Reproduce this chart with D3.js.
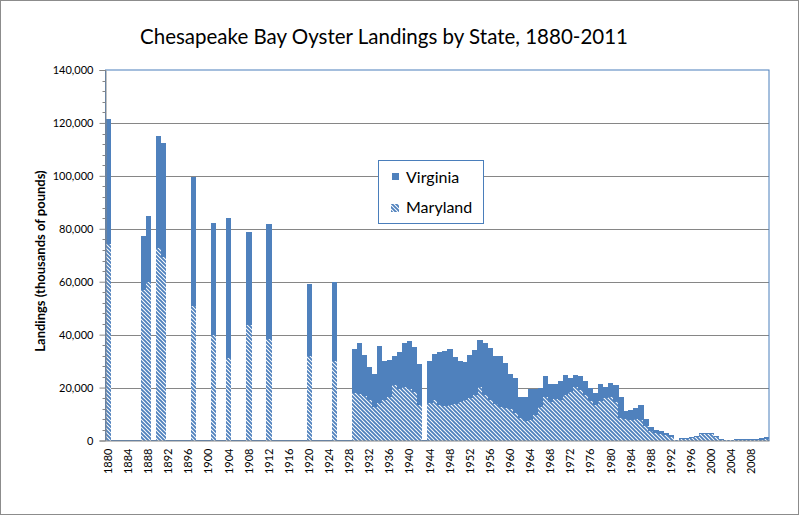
<!DOCTYPE html>
<html>
<head>
<meta charset="utf-8">
<script src="https://cdnjs.cloudflare.com/ajax/libs/d3/7.8.5/d3.min.js"></script>
<style>
  body { margin: 0; background: #fff; }
  svg { display: block; font-family: Lato, "Liberation Sans", sans-serif; }
</style>
</head>
<body>
<div class="chart"></div>
<script>
// landings data, thousands of pounds
var years = [1880,1887,1888,1890,1891,1897,1901,1904,1908,1912,1920,1925,
  1929,1930,1931,1932,1933,1934,1935,1936,1937,1938,1939,1940,1941,1942,
  1944,1945,1946,1947,1948,1949,1950,1951,1952,1953,1954,1955,1956,1957,1958,1959,
  1960,1961,1962,1963,1964,1965,1966,1967,1968,1969,1970,1971,1972,1973,1974,1975,
  1976,1977,1978,1979,1980,1981,1982,1983,1984,1985,1986,1987,1988,1989,1990,1991,
  1992,1993,1994,1995,1996,1997,1998,1999,2000,2001,2002,2003,2004,2005,2006,2007,
  2008,2009,2010,2011];

var maryland = [74200,56900,59800,72700,69500,50700,39800,31000,43500,38500,31900,30100,
  17800,17400,16800,15400,12600,14000,15400,16400,21000,19600,20200,19600,18200,13600,
  14200,15200,13500,13200,13500,13900,14400,15200,16100,17300,20300,17300,15400,13900,12700,12200,
  11800,10300,8400,7500,7800,9700,12800,16400,14700,15600,15300,17200,18500,20400,18900,17200,
  15000,13500,15100,16000,16500,14700,8500,8000,7800,8000,7800,5300,3600,2800,2500,2000,
  1300,150,700,750,1000,1300,2300,2500,2300,1200,300,80,60,100,150,150,
  200,200,300,400];

var virginia = [47400,20200,25200,42400,42900,48900,42300,53000,35400,43300,27300,29800,
  16700,19400,15600,12300,12500,21800,14700,14000,10800,13900,16500,18000,17100,15300,
  15700,17400,19900,20700,21000,17800,15600,14400,16100,16900,17600,19700,19400,17900,19400,17100,
  13200,13200,8200,9100,11800,9600,7000,8000,6700,5800,7300,7600,5000,4400,5500,5100,
  5000,4400,6300,4400,5200,6300,8100,3000,3800,4200,5800,2700,1400,1200,1100,800,
  700,100,400,350,400,500,500,500,500,600,300,70,190,400,450,450,
  500,550,700,1000];

var yTicks = [0,20000,40000,60000,80000,100000,120000,140000];
var xTickYears = d3.range(1880, 2012, 4);
var allYears = d3.range(1880, 2012);
var keys = ['Maryland','Virginia'];

var blue = '#4f81bd';

var W = 800, H = 516;
var plot = {left: 105.5, right: 769, top: 70, bottom: 440.5};

var svg = d3.select('.chart')
  .append('svg')
    .attr('width', W)
    .attr('height', H);

// hatch for Maryland
var defs = svg.append('defs');
var pat = defs.append('pattern')
    .attr('id', 'hatch')
    .attr('patternUnits', 'userSpaceOnUse')
    .attr('width', 4)
    .attr('height', 4);
pat.append('rect')
    .attr('width', 4).attr('height', 4)
    .attr('fill', '#fff');
pat.append('path')
    .attr('d', 'M-1,-1 L5,5 M-1,3 L1,5 M3,-1 L5,1')
    .attr('stroke', blue)
    .attr('stroke-width', 1.9);

// chart background + outer border
svg.append('rect')
    .attr('x', 0.5).attr('y', 0.5)
    .attr('width', W - 2).attr('height', H - 2)
    .attr('fill', '#fff')
    .attr('stroke', '#8c8c8c');

svg.append('text')
    .attr('x', 384)
    .attr('y', 44)
    .attr('font-size', '20.5px')
    .attr('fill', 'black')
    .style('text-anchor', 'middle')
    .text('Chesapeake Bay Oyster Landings by State, 1880-2011');

var x = d3.scaleBand()
    .domain(allYears)
    .range([plot.left, plot.right])
    .padding(0);

var y = d3.scaleLinear()
    .domain([0, 140000])
    .range([plot.bottom, plot.top]);

// gridlines
svg.append('g')
  .selectAll('line')
  .data(yTicks.filter(function(d) { return d > 0 && d < 140000; }))
  .enter().append('line')
    .attr('x1', plot.left).attr('x2', plot.right)
    .attr('y1', function(d) { return Math.round(y(d)) + 0.5; })
    .attr('y2', function(d) { return Math.round(y(d)) + 0.5; })
    .attr('stroke', '#868686');

// plot area border
svg.append('rect')
    .attr('x', plot.left).attr('y', plot.top)
    .attr('width', plot.right - plot.left)
    .attr('height', plot.bottom - plot.top)
    .attr('fill', 'none')
    .attr('stroke', '#4a7ebb');

// stacked bars
var table = years.map(function(yr, i) {
  return {year: yr, Maryland: maryland[i], Virginia: virginia[i]};
});
var series = d3.stack().keys(keys)(table);

svg.append('g')
  .selectAll('g')
  .data(series)
  .enter().append('g')
    .attr('fill', function(d) { return d.key === 'Maryland' ? 'url(#hatch)' : blue; })
  .selectAll('rect')
  .data(function(d) { return d; })
  .enter().append('rect')
    .attr('x', function(d) { return x(d.data.year); })
    .attr('width', x.bandwidth() + 0.3)
    .attr('y', function(d) { return y(d[1]); })
    .attr('height', function(d) { return y(d[0]) - y(d[1]); })
    .attr('shape-rendering', 'crispEdges');

// y axis
var minor = d3.range(0, 140001, 4000).filter(function(d) { return d % 20000 !== 0; });
svg.append('g')
  .selectAll('line')
  .data(minor)
  .enter().append('line')
    .attr('x1', plot.left - 3).attr('x2', plot.left)
    .attr('y1', function(d) { return Math.round(y(d)) + 0.5; })
    .attr('y2', function(d) { return Math.round(y(d)) + 0.5; })
    .attr('stroke', '#868686');

var yAx = svg.append('g')
    .attr('class', 'axis y-axis')
    .attr('transform', 'translate(' + plot.left + ',0)')
    .call(d3.axisLeft(y).tickValues(yTicks).tickFormat(d3.format(',')).tickSize(6).tickPadding(6));
yAx.selectAll('path, line').attr('stroke', '#868686');
yAx.selectAll('text')
    .attr('font-family', 'Lato, sans-serif')
    .attr('font-size', '11px')
    .attr('fill', '#000');

svg.append('text')
    .attr('transform', 'translate(40,261) rotate(-90)')
    .attr('dy', '0.35em')
    .attr('font-size', '13px')
    .attr('font-weight', 'bold')
    .style('text-anchor', 'middle')
    .text('Landings (thousands of pounds)');

// x axis
var xAx = svg.append('g')
    .attr('class', 'axis x-axis')
    .attr('transform', 'translate(0,' + plot.bottom + ')')
    .call(d3.axisBottom(x).tickValues(xTickYears).tickSize(0));
xAx.select('path').attr('stroke', '#868686');
xAx.selectAll('text')
    .attr('font-family', 'Lato, sans-serif')
    .attr('font-size', '11px')
    .attr('fill', '#000')
    .attr('transform', 'rotate(-90)')
    .attr('x', -8)
    .attr('y', 0)
    .attr('dy', '0.35em')
    .style('text-anchor', 'end');

// legend
var lg = svg.append('g');
lg.append('rect')
    .attr('x', 378.5).attr('y', 160.5)
    .attr('width', 105).attr('height', 63)
    .attr('fill', '#fff')
    .attr('stroke', '#4a7ebb');
lg.append('rect')
    .attr('x', 392).attr('y', 173)
    .attr('width', 7).attr('height', 7)
    .attr('fill', blue);
lg.append('rect')
    .attr('x', 391).attr('y', 204)
    .attr('width', 8).attr('height', 8)
    .attr('fill', 'url(#hatch)');
lg.append('text')
    .attr('x', 406).attr('y', 183)
    .attr('font-size', '16px')
    .text('Virginia');
lg.append('text')
    .attr('x', 406).attr('y', 213)
    .attr('font-size', '16px')
    .text('Maryland');
</script>
</body>
</html>
